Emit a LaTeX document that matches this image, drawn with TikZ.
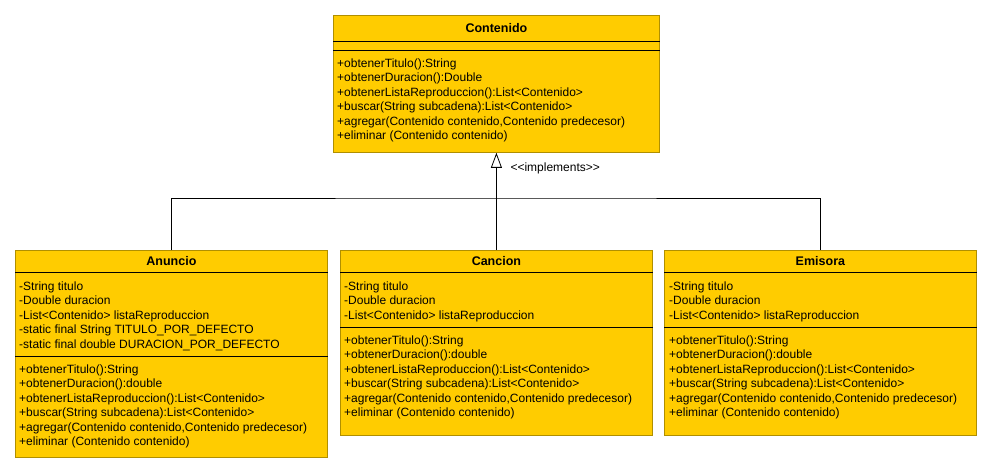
\documentclass[tikz,border=0pt]{standalone}
\usepackage{fontspec}
\setmainfont{Liberation Sans}
\usetikzlibrary{arrows.meta}
\definecolor{umlfill}{HTML}{FFCC00}
\definecolor{umlborder}{HTML}{B08F00}
\tikzset{
  classbox/.style={draw=umlborder, fill=umlfill, line width=0.8pt, anchor=north west, inner sep=0pt},
  classname/.style={font=\fontsize{12.5}{14}\selectfont\bfseries, anchor=base},
  members/.style={font=\fontsize{12}{14.5}\selectfont, align=left, anchor=base west, inner sep=0pt},
  sepline/.style={line width=0.7pt},
  link/.style={line width=0.8pt},
}
\begin{document}
\begin{tikzpicture}[x=1pt,y=-1pt]
\useasboundingbox (0,0) rectangle (992,473);

\node[classbox, minimum width=326pt, minimum height=137pt] (contenido) at (333,15) {};
\node[classbox, minimum width=312pt, minimum height=207pt] (anuncio) at (15,250) {};
\node[classbox, minimum width=312pt, minimum height=185pt] (cancion) at (340,250) {};
\node[classbox, minimum width=312pt, minimum height=185pt] (emisora) at (664,250) {};

% member blocks are placed at the baseline of their last line
\node[classname] (contenidoname) at (contenido.north |- 0,32.5) {Contenido};
\draw[sepline] (contenido.west |- 0,41) -- (contenido.east |- 0,41);
\draw[sepline] (contenido.west |- 0,50) -- (contenido.east |- 0,50);
\node[members] (contenidoops) at (337,140) {+obtenerTitulo():String\\
+obtenerDuracion():Double\\
+obtenerListaReproduccion():List<Contenido>\\
+buscar(String subcadena):List<Contenido>\\
+agregar(Contenido contenido,Contenido predecesor)\\
+eliminar (Contenido contenido)};

\node[classname] (anuncioname) at (anuncio.north |- 0,265) {Anuncio};
\draw[sepline] (anuncio.west |- 0,272) -- (anuncio.east |- 0,272);
\node[members] (anuncioattrs) at (19,348) {-String titulo\\
-Double duracion\\
-List<Contenido> listaReproduccion\\
-static final String TITULO\_POR\_DEFECTO\\
-static final double DURACION\_POR\_DEFECTO};
\draw[sepline] (anuncio.west |- 0,356) -- (anuncio.east |- 0,356);
\node[members] (anuncioops) at (19,445.5) {+obtenerTitulo():String\\
+obtenerDuracion():double\\
+obtenerListaReproduccion():List<Contenido>\\
+buscar(String subcadena):List<Contenido>\\
+agregar(Contenido contenido,Contenido predecesor)\\
+eliminar (Contenido contenido)};

\node[classname] (cancionname) at (cancion.north |- 0,265) {Cancion};
\draw[sepline] (cancion.west |- 0,272) -- (cancion.east |- 0,272);
\node[members] (cancionattrs) at (344,319) {-String titulo\\
-Double duracion\\
-List<Contenido> listaReproduccion};
\draw[sepline] (cancion.west |- 0,327) -- (cancion.east |- 0,327);
\node[members] (cancionops) at (344,416.5) {+obtenerTitulo():String\\
+obtenerDuracion():double\\
+obtenerListaReproduccion():List<Contenido>\\
+buscar(String subcadena):List<Contenido>\\
+agregar(Contenido contenido,Contenido predecesor)\\
+eliminar (Contenido contenido)};

\node[classname] (emisoraname) at (emisora.north |- 0,265) {Emisora};
\draw[sepline] (emisora.west |- 0,272) -- (emisora.east |- 0,272);
\node[members] (emisoraattrs) at (669,319) {-String titulo\\
-Double duracion\\
-List<Contenido> listaReproduccion};
\draw[sepline] (emisora.west |- 0,327) -- (emisora.east |- 0,327);
\node[members] (emisoraops) at (669,416.5) {+obtenerTitulo():String\\
+obtenerDuracion():double\\
+obtenerListaReproduccion():List<Contenido>\\
+buscar(String subcadena):List<Contenido>\\
+agregar(Contenido contenido,Contenido predecesor)\\
+eliminar (Contenido contenido)};

\coordinate (split) at (496,198);
\draw[link] (anuncio.north) |- (split) -| (emisora.north);
\draw[link, -{Triangle[open, length=15pt, width=11pt]}] (cancion.north) -- (contenido.south);
\node[anchor=west, font=\fontsize{12}{14}\selectfont] (impl) at (507,168) {<{}<implements>{}>};
\end{tikzpicture}
\end{document}
